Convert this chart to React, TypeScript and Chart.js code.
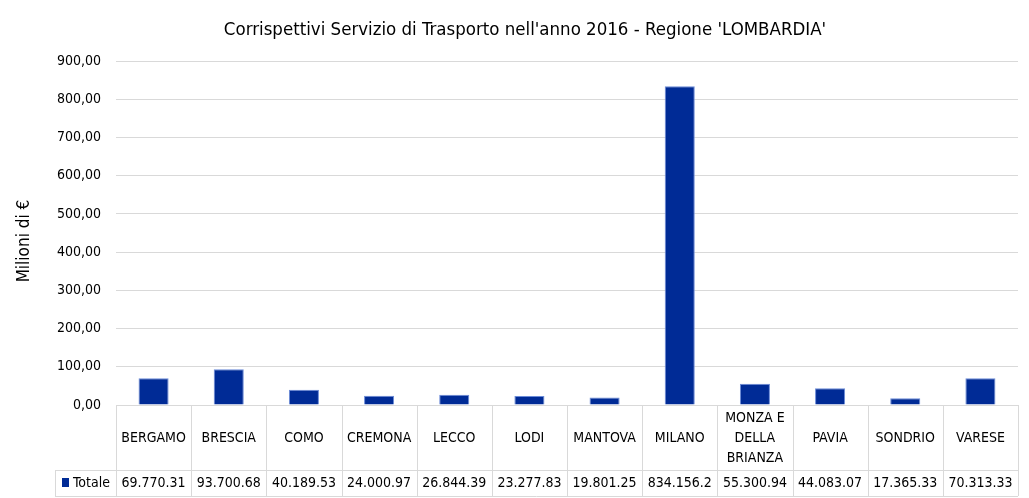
import React, { useEffect, useRef } from "react";
import { Chart, registerables } from "chart.js";
Chart.register(...registerables);

const categories = ["BERGAMO", "BRESCIA", "COMO", "CREMONA", "LECCO", "LODI", "MANTOVA", "MILANO", "MONZA E DELLA BRIANZA", "PAVIA", "SONDRIO", "VARESE"];
const headerLines = [["BERGAMO"], ["BRESCIA"], ["COMO"], ["CREMONA"], ["LECCO"], ["LODI"], ["MANTOVA"], ["MILANO"], ["MONZA E", "DELLA", "BRIANZA"], ["PAVIA"], ["SONDRIO"], ["VARESE"]];
const values = [69.77, 93.7, 40.19, 24.0, 26.84, 23.28, 19.8, 834.16, 55.3, 44.08, 17.37, 70.31];
const tableLabels = ["69.770.31", "93.700.68", "40.189.53", "24.000.97", "26.844.39", "23.277.83", "19.801.25", "834.156.2", "55.300.94", "44.083.07", "17.365.33", "70.313.33"];
const seriesName = "Totale";
const titleText = "Corrispettivi Servizio di Trasporto nell'anno 2016 - Regione 'LOMBARDIA'";
const yTitle = "Milioni di €";

const FONT = "'Liberation Sans Narrow', 'DejaVu Sans Condensed', sans-serif";
const BLUE = "#002b96";
const GRID = "#d9d9d9";

const tablePlugin = {
  id: "tablePlugin",
  afterDraw(chart: any) {
    const ctx = chart.ctx;
    const ca = chart.chartArea;
    const x = chart.scales.x;
    const n = categories.length;
    const step = (ca.right - ca.left) / n;
    const top = ca.bottom;
    const mid = top + 65;
    const bot = top + 91;
    const legLeft = 55;
    ctx.save();
    ctx.strokeStyle = GRID;
    ctx.lineWidth = 1;
    ctx.beginPath();
    ctx.moveTo(ca.left, top + 0.5); ctx.lineTo(ca.right, top + 0.5);
    ctx.moveTo(legLeft, mid + 0.5); ctx.lineTo(ca.right, mid + 0.5);
    ctx.moveTo(legLeft, bot + 0.5); ctx.lineTo(ca.right, bot + 0.5);
    for (let i = 0; i <= n; i++) {
      const xx = Math.round(ca.left + i * step) + 0.5;
      ctx.moveTo(xx, top); ctx.lineTo(xx, bot);
    }
    ctx.moveTo(legLeft + 0.5, mid); ctx.lineTo(legLeft + 0.5, bot);
    ctx.stroke();

    ctx.fillStyle = "#000";
    ctx.font = `14px ${FONT}`;
    ctx.textAlign = "center";
    ctx.textBaseline = "middle";
    for (let i = 0; i < n; i++) {
      const cx = x.getPixelForValue(i);
      const lines = headerLines[i];
      const lh = 20;
      const cy = top + 33;
      lines.forEach((l, k) => {
        ctx.fillText(l, cx, cy + (k - (lines.length - 1) / 2) * lh);
      });
      ctx.fillText(tableLabels[i], cx, mid + 13);
    }
    ctx.fillStyle = BLUE;
    ctx.fillRect(62, mid + 8, 7, 9);
    ctx.fillStyle = "#000";
    ctx.textAlign = "left";
    ctx.fillText(seriesName, 73, mid + 13);

    // title
    ctx.font = `18.5px ${FONT}`;
    ctx.textAlign = "center";
    ctx.fillText(titleText, 525, 30);
    // y title
    ctx.font = `17px ${FONT}`;
    ctx.translate(25, 241);
    ctx.rotate(-Math.PI / 2);
    ctx.fillText(yTitle, 0, 0);
    ctx.restore();
  },
};

export default function App() {
  const ref = useRef<HTMLCanvasElement>(null);
  useEffect(() => {
    document.body.style.margin = "0";
    const chart = new Chart(ref.current!, {
      type: "bar",
      data: {
        labels: categories,
        datasets: [{
          label: seriesName,
          data: values,
          backgroundColor: BLUE,
          borderColor: "#6b8bd8",
          borderWidth: { top: 1, left: 1, right: 1, bottom: 0 },
          categoryPercentage: 1,
          barPercentage: 0.4,
        }],
      },
      options: {
        animation: false,
        responsive: false,
        maintainAspectRatio: false,
        layout: { padding: { top: 61, right: 11, left: 0, bottom: 0 } },
        plugins: { legend: { display: false }, title: { display: false }, tooltip: { enabled: false } },
        scales: {
          x: {
            ticks: { display: false },
            grid: { display: false },
            border: { display: false },
            afterFit: (s: any) => { s.height = 93; },
          },
          y: {
            min: 0,
            max: 900,
            ticks: {
              stepSize: 100,
              padding: 15,
              color: "#000",
              font: { family: FONT, size: 14 },
              callback: (v: any) => Number(v).toFixed(2).replace(".", ","),
            },
            grid: { color: GRID, drawTicks: false },
            border: { display: false },
            afterFit: (s: any) => { s.width = 116; },
          },
        },
      },
      plugins: [tablePlugin],
    });
    return () => chart.destroy();
  }, []);
  return (
    <div style={{ width: 1029, height: 498 }}>
      <canvas ref={ref} width={1029} height={498} style={{ display: "block" }} />
    </div>
  );
}
